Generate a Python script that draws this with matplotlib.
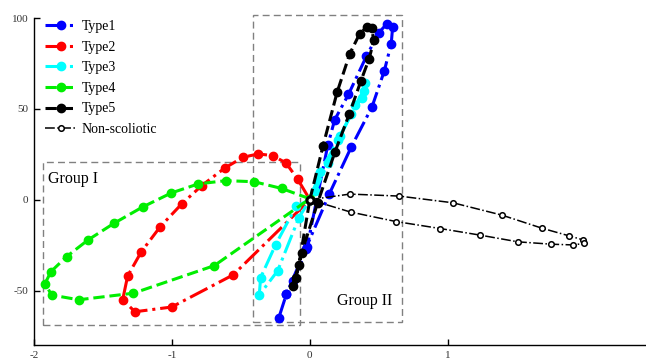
import matplotlib
matplotlib.use("Agg")
import matplotlib.pyplot as plt
from matplotlib.patches import Rectangle

plt.rcParams["font.family"] = ["Liberation Serif", "DejaVu Serif"]
plt.rcParams["axes.unicode_minus"] = False

# trajectories (x, y)
type1_x = [-0.225, -0.17, -0.03, 0.14, 0.30, 0.45, 0.54, 0.59, 0.60, 0.56, 0.50, 0.41, 0.28, 0.18, 0.13, -0.02, -0.12, -0.17]
type1_y = [-65, -52, -27, 3, 29, 51, 71, 86, 95, 97, 92, 79, 58, 44, 30, -26, -45, -52]

type2_x = [0.0, -0.089, -0.174, -0.27, -0.375, -0.483, -0.616, -0.785, -0.93, -1.085, -1.222, -1.321, -1.357, -1.268, -1.002, -0.556, 0.0]
type2_y = [0, 11.4, 20.3, 24.3, 25.2, 23.4, 17.5, 7.7, -2.4, -14.9, -28.7, -42.0, -55.1, -61.7, -59.1, -41.4, 0]

type3_x = [0.0, -0.101, -0.249, -0.357, -0.367, -0.234, -0.08, 0.04, 0.13, 0.22, 0.30, 0.375, 0.40, 0.39, 0.33, 0.205, 0.072, 0.0]
type3_y = [0, -3.7, -24.9, -42.9, -52.5, -39.2, -10, 5, 20, 35, 47, 56, 64, 60, 52, 33, 15, 0]

type4_x = [0.0, -0.205, -0.404, -0.609, -0.809, -1.005, -1.212, -1.418, -1.607, -1.763, -1.877, -1.92, -1.872, -1.676, -1.28, -0.693, 0.0]
type4_y = [0.5, 6.2, 9.9, 10.5, 8.7, 3.7, -4.0, -12.9, -22.1, -31.3, -39.6, -46.2, -52.5, -55.1, -51.5, -36.3, 0.5]

type5_x = [0.0, 0.096, 0.198, 0.29, 0.362, 0.415, 0.447, 0.464, 0.43, 0.37, 0.285, 0.181, 0.056, -0.06, -0.101, -0.125, -0.08, 0.0]
type5_y = [0, 29.8, 59.3, 80.5, 91.5, 95.2, 94.3, 87.8, 77.7, 65.4, 47, 26.1, -1.8, -29.4, -42.9, -47.5, -36, 0]

normal_x = [0.0, 0.29, 0.647, 1.038, 1.393, 1.683, 1.879, 1.98, 1.986, 1.908, 1.751, 1.509, 1.234, 0.947, 0.623, 0.295, 0.0]
normal_y = [0, 3.1, 2.0, -1.7, -8.5, -15.7, -19.9, -22.1, -24.1, -24.9, -24.5, -23.2, -19.5, -15.9, -12.0, -6.8, 0]

fig = plt.figure(figsize=(6.46, 3.6), dpi=100)
ax = fig.add_axes([0.0526, 0.0417, 0.947, 0.908])

lw = 2.2
ms = 6
ax.plot(type1_x, type1_y, "-.", color="blue", lw=lw, marker="o", ms=ms, label="Type1")
ax.plot(type2_x, type2_y, "-.", color="red", lw=lw, marker="o", ms=ms, label="Type2")
ax.plot(type3_x, type3_y, "-.", color="cyan", lw=lw, marker="o", ms=ms, label="Type3")
ax.plot(type4_x, type4_y, "--", color="#00ee00", lw=lw, marker="o", ms=ms, label="Type4")
ax.plot(type5_x, type5_y, "--", color="black", lw=lw, marker="o", ms=ms, label="Type5")
ax.plot(normal_x, normal_y, "-.", color="black", lw=1.1, marker="o", ms=4,
        mfc="white", mec="black", mew=1.1, label="Non-scoliotic")

# group boxes
ax.add_patch(Rectangle((-1.933, -69), 1.861, 89.6, fill=False, ec="gray",
                       ls=(0, (5, 3)), lw=1, clip_on=False))
ax.add_patch(Rectangle((-0.415, -67.4), 1.084, 169.1, fill=False, ec="gray",
                       ls=(0, (5, 3)), lw=1, clip_on=False))
ax.text(-1.9, 11.6, "Group I", fontsize=11.5, va="center", ha="left")
ax.text(0.594, -55.8, "Group II", fontsize=11.5, va="center", ha="right")

ax.set_xlim(-2, 2.435)
ax.set_ylim(-80, 100)
ax.set_xticks([-2, -1, 0, 1])
ax.set_yticks([-50, 0, 50, 100])
ax.tick_params(direction="in", length=4, width=1, labelsize=8, labelcolor="#333333", pad=4)
for s in ["top", "right"]:
    ax.spines[s].set_visible(False)
for s in ["left", "bottom"]:
    ax.spines[s].set_linewidth(1)

ax.legend(loc="upper left", bbox_to_anchor=(0.005, 1.02), frameon=False, fontsize=10,
          handlelength=2.3, handletextpad=0.3, labelspacing=0.55, borderaxespad=0.2)

fig.savefig("out.png", dpi=100)
